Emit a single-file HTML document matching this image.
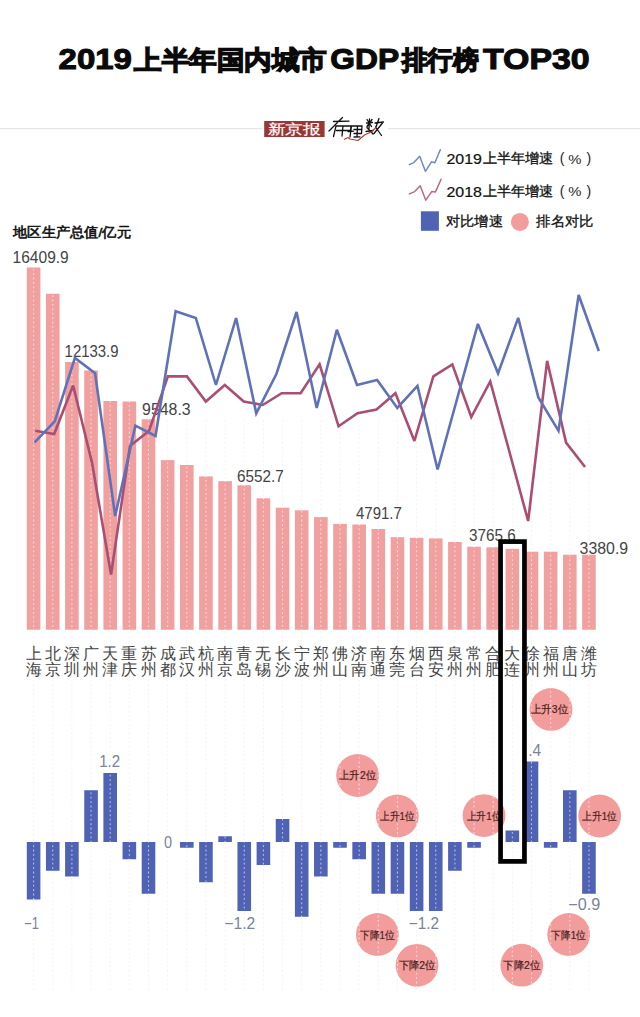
<!DOCTYPE html>
<html><head><meta charset="utf-8"><style>
html,body{margin:0;padding:0;background:#fff;}
body{width:640px;height:1017px;overflow:hidden;position:relative;font-family:"Liberation Sans",sans-serif;}
svg{position:absolute;left:0;top:0;}
</style></head><body>
<svg width="640" height="1017" viewBox="0 0 640 1017" font-family="Liberation Sans, sans-serif">
<rect width="640" height="1017" fill="#fff"/>

<text x="58.6" y="69.2" font-size="30" font-weight="bold" fill="#0a0a0a" stroke="#0a0a0a" stroke-width="1.1" textLength="73.2" lengthAdjust="spacingAndGlyphs">2019</text>
<text x="134" y="69.3" font-size="26" fill="#0a0a0a" stroke="#0a0a0a" stroke-width="2.2" textLength="193" lengthAdjust="spacingAndGlyphs">上半年国内城市</text>
<text x="330.3" y="69.2" font-size="30" font-weight="bold" fill="#0a0a0a" stroke="#0a0a0a" stroke-width="1.1" textLength="68.8" lengthAdjust="spacingAndGlyphs">GDP</text>
<text x="401.5" y="69.3" font-size="26" fill="#0a0a0a" stroke="#0a0a0a" stroke-width="2.2" textLength="77" lengthAdjust="spacingAndGlyphs">排行榜</text>
<text x="483" y="69.2" font-size="30" font-weight="bold" fill="#0a0a0a" stroke="#0a0a0a" stroke-width="1.1" textLength="106.6" lengthAdjust="spacingAndGlyphs">TOP30</text>
<rect x="0" y="128" width="640" height="1.2" fill="#e6e6e6"/>
<rect x="262" y="115" width="126" height="28" fill="#fff"/>
<rect x="264.2" y="121" width="60.4" height="16" fill="#9a3636"/>
<text x="267.5" y="134.3" font-family="Liberation Serif, serif" font-size="14" fill="#fff" stroke="#fff" stroke-width="0.2" textLength="53" lengthAdjust="spacingAndGlyphs">新京报</text>
<path d="M342.5,117.5 L329,131 M333.5,121.5 L349,121.2 M336,126 L333.5,136.5 M336,126 L351,125.8 L350.5,131 M336.5,130.5 L350.5,130.5 M343,126 L342,136 M348.5,126 L354,125.8 M351.5,126 L350,137 M348,131.5 L353.5,131.2 M354,126 L362,126 L361.5,133.5 M354,129.5 L361.5,129.5 M357.5,126 L357,137 M354,133.5 L361.5,133.5 M354,137 L360,136.8 M366.5,123 L372.5,122.5 M369.5,119 L369,128.5 M367,119.5 L371.5,126.5 M372,119.5 L367,126.5 M367,127.5 L373,134 M366,131.5 L373,130.5 M379,118.5 L376,127 M375,123 L383.5,122 M382.5,123 L374,133.5 M375.5,127 L381.5,135.5" fill="none" stroke="#111" stroke-width="1.3" stroke-linecap="round"/>
<polyline points="344,139.5 348,137.5 350,139 358,140.5 364.5,135 372,131.5 376,127.5" fill="none" stroke="#b03a3a" stroke-width="1.1" stroke-linejoin="round"/>
<polyline points="409.3,164.6 413.8,162.6 419.7,156.2 425.4,171.3 431.5,161.8 434.9,162.8 440.3,149.8" fill="none" stroke="#7688c4" stroke-width="1.5" stroke-linejoin="round" stroke-linecap="round"/>
<polyline points="409.3,193.9 414.7,191.6 420.2,185.7 425.8,200.2 431.7,191.6 435.4,192.1 441.1,179.3" fill="none" stroke="#b86a88" stroke-width="1.5" stroke-linejoin="round" stroke-linecap="round"/>
<text x="446.5" y="164.3" font-size="14.8" fill="#111" stroke="#111" stroke-width="0.2" textLength="35.5" lengthAdjust="spacingAndGlyphs">2019</text>
<text x="482.5" y="163.3" font-size="13.6" fill="#111" stroke="#111" stroke-width="0.3" textLength="71" lengthAdjust="spacingAndGlyphs">上半年增速</text>
<text x="559.8" y="163.3" font-size="14" fill="#222">(</text>
<text x="568.2" y="164.0" font-size="13.2" fill="#222" textLength="13.2" lengthAdjust="spacingAndGlyphs">%</text>
<text x="586.6" y="163.3" font-size="14" fill="#222">)</text>
<text x="446.5" y="196.70000000000002" font-size="14.8" fill="#111" stroke="#111" stroke-width="0.2" textLength="35.5" lengthAdjust="spacingAndGlyphs">2018</text>
<text x="482.5" y="195.70000000000002" font-size="13.6" fill="#111" stroke="#111" stroke-width="0.3" textLength="71" lengthAdjust="spacingAndGlyphs">上半年增速</text>
<text x="559.8" y="195.70000000000002" font-size="14" fill="#222">(</text>
<text x="568.2" y="196.4" font-size="13.2" fill="#222" textLength="13.2" lengthAdjust="spacingAndGlyphs">%</text>
<text x="586.6" y="195.70000000000002" font-size="14" fill="#222">)</text>
<rect x="420.9" y="211.3" width="18" height="19.5" fill="#4f62b3"/>
<text x="445.8" y="226" font-size="13.6" fill="#111" stroke="#111" stroke-width="0.3" textLength="57" lengthAdjust="spacingAndGlyphs">对比增速</text>
<circle cx="519.9" cy="221.9" r="9" fill="#f29c9b"/>
<text x="536.2" y="226.2" font-size="13.6" fill="#111" stroke="#111" stroke-width="0.3" textLength="57.5" lengthAdjust="spacingAndGlyphs">排名对比</text>
<text x="13.2" y="236.8" font-size="13.6" fill="#111" stroke="#111" stroke-width="0.6" textLength="117.6" lengthAdjust="spacingAndGlyphs">地区生产总值/亿元</text>
<line x1="33.60" y1="420" x2="33.60" y2="990" stroke="#f1f1f1" stroke-width="1" stroke-dasharray="1.8,2.6"/>
<line x1="52.75" y1="420" x2="52.75" y2="990" stroke="#f1f1f1" stroke-width="1" stroke-dasharray="1.8,2.6"/>
<line x1="71.90" y1="420" x2="71.90" y2="990" stroke="#f1f1f1" stroke-width="1" stroke-dasharray="1.8,2.6"/>
<line x1="91.05" y1="420" x2="91.05" y2="990" stroke="#f1f1f1" stroke-width="1" stroke-dasharray="1.8,2.6"/>
<line x1="110.20" y1="420" x2="110.20" y2="990" stroke="#f1f1f1" stroke-width="1" stroke-dasharray="1.8,2.6"/>
<line x1="129.35" y1="420" x2="129.35" y2="990" stroke="#f1f1f1" stroke-width="1" stroke-dasharray="1.8,2.6"/>
<line x1="148.50" y1="420" x2="148.50" y2="990" stroke="#f1f1f1" stroke-width="1" stroke-dasharray="1.8,2.6"/>
<line x1="167.65" y1="420" x2="167.65" y2="990" stroke="#f1f1f1" stroke-width="1" stroke-dasharray="1.8,2.6"/>
<line x1="186.80" y1="420" x2="186.80" y2="990" stroke="#f1f1f1" stroke-width="1" stroke-dasharray="1.8,2.6"/>
<line x1="205.95" y1="420" x2="205.95" y2="990" stroke="#f1f1f1" stroke-width="1" stroke-dasharray="1.8,2.6"/>
<line x1="225.10" y1="420" x2="225.10" y2="990" stroke="#f1f1f1" stroke-width="1" stroke-dasharray="1.8,2.6"/>
<line x1="244.25" y1="420" x2="244.25" y2="990" stroke="#f1f1f1" stroke-width="1" stroke-dasharray="1.8,2.6"/>
<line x1="263.40" y1="420" x2="263.40" y2="990" stroke="#f1f1f1" stroke-width="1" stroke-dasharray="1.8,2.6"/>
<line x1="282.55" y1="420" x2="282.55" y2="990" stroke="#f1f1f1" stroke-width="1" stroke-dasharray="1.8,2.6"/>
<line x1="301.70" y1="420" x2="301.70" y2="990" stroke="#f1f1f1" stroke-width="1" stroke-dasharray="1.8,2.6"/>
<line x1="320.85" y1="420" x2="320.85" y2="990" stroke="#f1f1f1" stroke-width="1" stroke-dasharray="1.8,2.6"/>
<line x1="340.00" y1="420" x2="340.00" y2="990" stroke="#f1f1f1" stroke-width="1" stroke-dasharray="1.8,2.6"/>
<line x1="359.15" y1="420" x2="359.15" y2="990" stroke="#f1f1f1" stroke-width="1" stroke-dasharray="1.8,2.6"/>
<line x1="378.30" y1="420" x2="378.30" y2="990" stroke="#f1f1f1" stroke-width="1" stroke-dasharray="1.8,2.6"/>
<line x1="397.45" y1="420" x2="397.45" y2="990" stroke="#f1f1f1" stroke-width="1" stroke-dasharray="1.8,2.6"/>
<line x1="416.60" y1="420" x2="416.60" y2="990" stroke="#f1f1f1" stroke-width="1" stroke-dasharray="1.8,2.6"/>
<line x1="435.75" y1="420" x2="435.75" y2="990" stroke="#f1f1f1" stroke-width="1" stroke-dasharray="1.8,2.6"/>
<line x1="454.90" y1="420" x2="454.90" y2="990" stroke="#f1f1f1" stroke-width="1" stroke-dasharray="1.8,2.6"/>
<line x1="474.05" y1="420" x2="474.05" y2="990" stroke="#f1f1f1" stroke-width="1" stroke-dasharray="1.8,2.6"/>
<line x1="493.20" y1="420" x2="493.20" y2="990" stroke="#f1f1f1" stroke-width="1" stroke-dasharray="1.8,2.6"/>
<line x1="512.35" y1="420" x2="512.35" y2="990" stroke="#f1f1f1" stroke-width="1" stroke-dasharray="1.8,2.6"/>
<line x1="531.50" y1="420" x2="531.50" y2="990" stroke="#f1f1f1" stroke-width="1" stroke-dasharray="1.8,2.6"/>
<line x1="550.65" y1="420" x2="550.65" y2="990" stroke="#f1f1f1" stroke-width="1" stroke-dasharray="1.8,2.6"/>
<line x1="569.80" y1="420" x2="569.80" y2="990" stroke="#f1f1f1" stroke-width="1" stroke-dasharray="1.8,2.6"/>
<line x1="588.95" y1="420" x2="588.95" y2="990" stroke="#f1f1f1" stroke-width="1" stroke-dasharray="1.8,2.6"/>
<rect x="26.80" y="267.5" width="13.6" height="362.25" fill="#f0a09e"/>
<rect x="45.95" y="293.75" width="13.6" height="336.00" fill="#f0a09e"/>
<rect x="65.10" y="362" width="13.6" height="267.75" fill="#f0a09e"/>
<rect x="84.25" y="370.5" width="13.6" height="259.25" fill="#f0a09e"/>
<rect x="103.40" y="401" width="13.6" height="228.75" fill="#f0a09e"/>
<rect x="122.55" y="401.5" width="13.6" height="228.25" fill="#f0a09e"/>
<rect x="141.70" y="419.25" width="13.6" height="210.50" fill="#f0a09e"/>
<rect x="160.85" y="460.1" width="13.6" height="169.65" fill="#f0a09e"/>
<rect x="180.00" y="465" width="13.6" height="164.75" fill="#f0a09e"/>
<rect x="199.15" y="476.4" width="13.6" height="153.35" fill="#f0a09e"/>
<rect x="218.30" y="481.2" width="13.6" height="148.55" fill="#f0a09e"/>
<rect x="237.45" y="485.3" width="13.6" height="144.45" fill="#f0a09e"/>
<rect x="256.60" y="498.3" width="13.6" height="131.45" fill="#f0a09e"/>
<rect x="275.75" y="507.7" width="13.6" height="122.05" fill="#f0a09e"/>
<rect x="294.90" y="510.3" width="13.6" height="119.45" fill="#f0a09e"/>
<rect x="314.05" y="517.1" width="13.6" height="112.65" fill="#f0a09e"/>
<rect x="333.20" y="523.9" width="13.6" height="105.85" fill="#f0a09e"/>
<rect x="352.35" y="524.5" width="13.6" height="105.25" fill="#f0a09e"/>
<rect x="371.50" y="529" width="13.6" height="100.75" fill="#f0a09e"/>
<rect x="390.65" y="537.2" width="13.6" height="92.55" fill="#f0a09e"/>
<rect x="409.80" y="537.8" width="13.6" height="91.95" fill="#f0a09e"/>
<rect x="428.95" y="538.4" width="13.6" height="91.35" fill="#f0a09e"/>
<rect x="448.10" y="542" width="13.6" height="87.75" fill="#f0a09e"/>
<rect x="467.25" y="546.7" width="13.6" height="83.05" fill="#f0a09e"/>
<rect x="486.40" y="547.3" width="13.6" height="82.45" fill="#f0a09e"/>
<rect x="505.55" y="548.8" width="13.6" height="80.95" fill="#f0a09e"/>
<rect x="524.70" y="551.7" width="13.6" height="78.05" fill="#f0a09e"/>
<rect x="543.85" y="551.7" width="13.6" height="78.05" fill="#f0a09e"/>
<rect x="563.00" y="554.7" width="13.6" height="75.05" fill="#f0a09e"/>
<rect x="582.15" y="554.7" width="13.6" height="75.05" fill="#f0a09e"/>
<rect x="26.80" y="842.00" width="13.6" height="57.50" fill="#4f62b3"/>
<rect x="45.95" y="842.00" width="13.6" height="28.75" fill="#4f62b3"/>
<rect x="65.10" y="842.00" width="13.6" height="34.50" fill="#4f62b3"/>
<rect x="84.25" y="790.25" width="13.6" height="51.75" fill="#4f62b3"/>
<rect x="103.40" y="773.00" width="13.6" height="69.00" fill="#4f62b3"/>
<rect x="122.55" y="842.00" width="13.6" height="17.25" fill="#4f62b3"/>
<rect x="141.70" y="842.00" width="13.6" height="51.75" fill="#4f62b3"/>
<rect x="180.00" y="842.00" width="13.6" height="5.75" fill="#4f62b3"/>
<rect x="199.15" y="842.00" width="13.6" height="40.25" fill="#4f62b3"/>
<rect x="218.30" y="836.25" width="13.6" height="5.75" fill="#4f62b3"/>
<rect x="237.45" y="842.00" width="13.6" height="69.00" fill="#4f62b3"/>
<rect x="256.60" y="842.00" width="13.6" height="23.00" fill="#4f62b3"/>
<rect x="275.75" y="819.00" width="13.6" height="23.00" fill="#4f62b3"/>
<rect x="294.90" y="842.00" width="13.6" height="74.75" fill="#4f62b3"/>
<rect x="314.05" y="842.00" width="13.6" height="34.50" fill="#4f62b3"/>
<rect x="333.20" y="842.00" width="13.6" height="5.75" fill="#4f62b3"/>
<rect x="352.35" y="842.00" width="13.6" height="17.25" fill="#4f62b3"/>
<rect x="371.50" y="842.00" width="13.6" height="51.75" fill="#4f62b3"/>
<rect x="390.65" y="842.00" width="13.6" height="51.75" fill="#4f62b3"/>
<rect x="409.80" y="842.00" width="13.6" height="69.00" fill="#4f62b3"/>
<rect x="428.95" y="842.00" width="13.6" height="69.00" fill="#4f62b3"/>
<rect x="448.10" y="842.00" width="13.6" height="28.75" fill="#4f62b3"/>
<rect x="467.25" y="842.00" width="13.6" height="5.75" fill="#4f62b3"/>
<rect x="505.55" y="830.50" width="13.6" height="11.50" fill="#4f62b3"/>
<rect x="524.70" y="761.50" width="13.6" height="80.50" fill="#4f62b3"/>
<rect x="543.85" y="842.00" width="13.6" height="5.75" fill="#4f62b3"/>
<rect x="563.00" y="790.25" width="13.6" height="51.75" fill="#4f62b3"/>
<rect x="582.15" y="842.00" width="13.6" height="51.75" fill="#4f62b3"/>
<circle cx="551" cy="709.4" r="21.4" fill="#f29c9b"/>
<circle cx="357.6" cy="775.5" r="21.4" fill="#f29c9b"/>
<circle cx="397.3" cy="816" r="21.4" fill="#f29c9b"/>
<circle cx="484" cy="815.6" r="21.4" fill="#f29c9b"/>
<circle cx="599.7" cy="816" r="21.4" fill="#f29c9b"/>
<circle cx="377.4" cy="934.5" r="21.4" fill="#f29c9b"/>
<circle cx="417" cy="965.3" r="21.4" fill="#f29c9b"/>
<circle cx="521.8" cy="965.2" r="21.4" fill="#f29c9b"/>
<circle cx="568.7" cy="934.5" r="21.4" fill="#f29c9b"/>
<line x1="33.60" y1="260" x2="33.60" y2="990" stroke="#ffffff" stroke-opacity="0.6" stroke-width="1.1" stroke-dasharray="1.8,2.6"/>
<line x1="52.75" y1="260" x2="52.75" y2="990" stroke="#ffffff" stroke-opacity="0.6" stroke-width="1.1" stroke-dasharray="1.8,2.6"/>
<line x1="71.90" y1="260" x2="71.90" y2="990" stroke="#ffffff" stroke-opacity="0.6" stroke-width="1.1" stroke-dasharray="1.8,2.6"/>
<line x1="91.05" y1="260" x2="91.05" y2="990" stroke="#ffffff" stroke-opacity="0.6" stroke-width="1.1" stroke-dasharray="1.8,2.6"/>
<line x1="110.20" y1="260" x2="110.20" y2="990" stroke="#ffffff" stroke-opacity="0.6" stroke-width="1.1" stroke-dasharray="1.8,2.6"/>
<line x1="129.35" y1="260" x2="129.35" y2="990" stroke="#ffffff" stroke-opacity="0.6" stroke-width="1.1" stroke-dasharray="1.8,2.6"/>
<line x1="148.50" y1="260" x2="148.50" y2="990" stroke="#ffffff" stroke-opacity="0.6" stroke-width="1.1" stroke-dasharray="1.8,2.6"/>
<line x1="167.65" y1="260" x2="167.65" y2="990" stroke="#ffffff" stroke-opacity="0.6" stroke-width="1.1" stroke-dasharray="1.8,2.6"/>
<line x1="186.80" y1="260" x2="186.80" y2="990" stroke="#ffffff" stroke-opacity="0.6" stroke-width="1.1" stroke-dasharray="1.8,2.6"/>
<line x1="205.95" y1="260" x2="205.95" y2="990" stroke="#ffffff" stroke-opacity="0.6" stroke-width="1.1" stroke-dasharray="1.8,2.6"/>
<line x1="225.10" y1="260" x2="225.10" y2="990" stroke="#ffffff" stroke-opacity="0.6" stroke-width="1.1" stroke-dasharray="1.8,2.6"/>
<line x1="244.25" y1="260" x2="244.25" y2="990" stroke="#ffffff" stroke-opacity="0.6" stroke-width="1.1" stroke-dasharray="1.8,2.6"/>
<line x1="263.40" y1="260" x2="263.40" y2="990" stroke="#ffffff" stroke-opacity="0.6" stroke-width="1.1" stroke-dasharray="1.8,2.6"/>
<line x1="282.55" y1="260" x2="282.55" y2="990" stroke="#ffffff" stroke-opacity="0.6" stroke-width="1.1" stroke-dasharray="1.8,2.6"/>
<line x1="301.70" y1="260" x2="301.70" y2="990" stroke="#ffffff" stroke-opacity="0.6" stroke-width="1.1" stroke-dasharray="1.8,2.6"/>
<line x1="320.85" y1="260" x2="320.85" y2="990" stroke="#ffffff" stroke-opacity="0.6" stroke-width="1.1" stroke-dasharray="1.8,2.6"/>
<line x1="340.00" y1="260" x2="340.00" y2="990" stroke="#ffffff" stroke-opacity="0.6" stroke-width="1.1" stroke-dasharray="1.8,2.6"/>
<line x1="359.15" y1="260" x2="359.15" y2="990" stroke="#ffffff" stroke-opacity="0.6" stroke-width="1.1" stroke-dasharray="1.8,2.6"/>
<line x1="378.30" y1="260" x2="378.30" y2="990" stroke="#ffffff" stroke-opacity="0.6" stroke-width="1.1" stroke-dasharray="1.8,2.6"/>
<line x1="397.45" y1="260" x2="397.45" y2="990" stroke="#ffffff" stroke-opacity="0.6" stroke-width="1.1" stroke-dasharray="1.8,2.6"/>
<line x1="416.60" y1="260" x2="416.60" y2="990" stroke="#ffffff" stroke-opacity="0.6" stroke-width="1.1" stroke-dasharray="1.8,2.6"/>
<line x1="435.75" y1="260" x2="435.75" y2="990" stroke="#ffffff" stroke-opacity="0.6" stroke-width="1.1" stroke-dasharray="1.8,2.6"/>
<line x1="454.90" y1="260" x2="454.90" y2="990" stroke="#ffffff" stroke-opacity="0.6" stroke-width="1.1" stroke-dasharray="1.8,2.6"/>
<line x1="474.05" y1="260" x2="474.05" y2="990" stroke="#ffffff" stroke-opacity="0.6" stroke-width="1.1" stroke-dasharray="1.8,2.6"/>
<line x1="493.20" y1="260" x2="493.20" y2="990" stroke="#ffffff" stroke-opacity="0.6" stroke-width="1.1" stroke-dasharray="1.8,2.6"/>
<line x1="512.35" y1="260" x2="512.35" y2="990" stroke="#ffffff" stroke-opacity="0.6" stroke-width="1.1" stroke-dasharray="1.8,2.6"/>
<line x1="531.50" y1="260" x2="531.50" y2="990" stroke="#ffffff" stroke-opacity="0.6" stroke-width="1.1" stroke-dasharray="1.8,2.6"/>
<line x1="550.65" y1="260" x2="550.65" y2="990" stroke="#ffffff" stroke-opacity="0.6" stroke-width="1.1" stroke-dasharray="1.8,2.6"/>
<line x1="569.80" y1="260" x2="569.80" y2="990" stroke="#ffffff" stroke-opacity="0.6" stroke-width="1.1" stroke-dasharray="1.8,2.6"/>
<line x1="588.95" y1="260" x2="588.95" y2="990" stroke="#ffffff" stroke-opacity="0.6" stroke-width="1.1" stroke-dasharray="1.8,2.6"/>
<text x="549.5" y="713.3" font-size="11" fill="#4a1c22" stroke="#4a1c22" stroke-width="0.2" text-anchor="middle" textLength="37" lengthAdjust="spacingAndGlyphs">上升3位</text>
<text x="357.6" y="779.4" font-size="11" fill="#4a1c22" stroke="#4a1c22" stroke-width="0.2" text-anchor="middle" textLength="37" lengthAdjust="spacingAndGlyphs">上升2位</text>
<text x="397.3" y="819.9" font-size="11" fill="#4a1c22" stroke="#4a1c22" stroke-width="0.2" text-anchor="middle" textLength="34.6" lengthAdjust="spacingAndGlyphs">上升1位</text>
<text x="484.0" y="819.5" font-size="11" fill="#4a1c22" stroke="#4a1c22" stroke-width="0.2" text-anchor="middle" textLength="34.6" lengthAdjust="spacingAndGlyphs">上升1位</text>
<text x="599.7" y="819.9" font-size="11" fill="#4a1c22" stroke="#4a1c22" stroke-width="0.2" text-anchor="middle" textLength="34.6" lengthAdjust="spacingAndGlyphs">上升1位</text>
<text x="377.4" y="939.4" font-size="11" fill="#4a1c22" stroke="#4a1c22" stroke-width="0.2" text-anchor="middle" textLength="34.6" lengthAdjust="spacingAndGlyphs">下降1位</text>
<text x="417.0" y="969.2" font-size="11" fill="#4a1c22" stroke="#4a1c22" stroke-width="0.2" text-anchor="middle" textLength="37" lengthAdjust="spacingAndGlyphs">下降2位</text>
<text x="521.8" y="969.1" font-size="11" fill="#4a1c22" stroke="#4a1c22" stroke-width="0.2" text-anchor="middle" textLength="37" lengthAdjust="spacingAndGlyphs">下降2位</text>
<text x="568.7" y="939.4" font-size="11" fill="#4a1c22" stroke="#4a1c22" stroke-width="0.2" text-anchor="middle" textLength="34.6" lengthAdjust="spacingAndGlyphs">下降1位</text>
<text x="12.55" y="263.3" font-size="16.3" fill="#444" textLength="56.23" lengthAdjust="spacingAndGlyphs">16409.9</text>
<text x="64.6" y="356.8" font-size="16.3" fill="#444" textLength="53.99" lengthAdjust="spacingAndGlyphs">12133.9</text>
<text x="142.1" y="414.8" font-size="16.3" fill="#444" textLength="48.62" lengthAdjust="spacingAndGlyphs">9548.3</text>
<text x="237.1" y="481.8" font-size="16.3" fill="#444" textLength="46.63" lengthAdjust="spacingAndGlyphs">6552.7</text>
<text x="356.0" y="518.75" font-size="16.3" fill="#444" textLength="45.84" lengthAdjust="spacingAndGlyphs">4791.7</text>
<text x="469.1" y="541.3" font-size="16.3" fill="#444" textLength="46.63" lengthAdjust="spacingAndGlyphs">3765.6</text>
<text x="579.6" y="553.8" font-size="16.3" fill="#444" textLength="48.62" lengthAdjust="spacingAndGlyphs">3380.9</text>
<polyline points="35.20,430.8 54.16,434 73.12,385.5 92.08,463 111.04,574.6 130.00,446 148.96,431 167.92,376.4 186.88,376.4 205.84,401.5 224.80,385 243.76,401.5 262.72,405 281.68,393.2 300.64,393.2 319.60,364.3 338.56,426.3 357.52,413.3 376.48,409.5 395.44,393.2 414.40,441 433.36,376.3 452.32,364.4 471.28,417 490.24,381.5 509.20,451 528.16,521 547.12,360.9 566.08,442.6 585.04,467" fill="none" stroke="#aa4e73" stroke-width="2.6" stroke-linejoin="miter" stroke-miterlimit="3"/>
<polyline points="34.60,442.3 54.75,421.3 74.90,357.9 95.05,373.2 115.20,516 135.35,425.7 155.50,436 175.65,311.2 195.80,318 215.95,385 236.10,318 256.25,413.3 276.40,374 296.55,312 316.70,408 336.85,329.8 357.00,385 377.15,380 397.30,408 417.45,385.9 437.60,469.5 457.75,396.5 477.90,323.9 498.05,373.3 518.20,317.9 538.35,397.4 558.50,430.8 578.65,295 598.80,351" fill="none" stroke="#5f72b9" stroke-width="2.6" stroke-linejoin="miter" stroke-miterlimit="3"/>
<text x="33.60" y="658.8" font-size="16" fill="#444" text-anchor="middle">上</text>
<text x="33.60" y="675.3" font-size="16" fill="#444" text-anchor="middle">海</text>
<text x="52.75" y="658.8" font-size="16" fill="#444" text-anchor="middle">北</text>
<text x="52.75" y="675.3" font-size="16" fill="#444" text-anchor="middle">京</text>
<text x="71.90" y="658.8" font-size="16" fill="#444" text-anchor="middle">深</text>
<text x="71.90" y="675.3" font-size="16" fill="#444" text-anchor="middle">圳</text>
<text x="91.05" y="658.8" font-size="16" fill="#444" text-anchor="middle">广</text>
<text x="91.05" y="675.3" font-size="16" fill="#444" text-anchor="middle">州</text>
<text x="110.20" y="658.8" font-size="16" fill="#444" text-anchor="middle">天</text>
<text x="110.20" y="675.3" font-size="16" fill="#444" text-anchor="middle">津</text>
<text x="129.35" y="658.8" font-size="16" fill="#444" text-anchor="middle">重</text>
<text x="129.35" y="675.3" font-size="16" fill="#444" text-anchor="middle">庆</text>
<text x="148.50" y="658.8" font-size="16" fill="#444" text-anchor="middle">苏</text>
<text x="148.50" y="675.3" font-size="16" fill="#444" text-anchor="middle">州</text>
<text x="167.65" y="658.8" font-size="16" fill="#444" text-anchor="middle">成</text>
<text x="167.65" y="675.3" font-size="16" fill="#444" text-anchor="middle">都</text>
<text x="186.80" y="658.8" font-size="16" fill="#444" text-anchor="middle">武</text>
<text x="186.80" y="675.3" font-size="16" fill="#444" text-anchor="middle">汉</text>
<text x="205.95" y="658.8" font-size="16" fill="#444" text-anchor="middle">杭</text>
<text x="205.95" y="675.3" font-size="16" fill="#444" text-anchor="middle">州</text>
<text x="225.10" y="658.8" font-size="16" fill="#444" text-anchor="middle">南</text>
<text x="225.10" y="675.3" font-size="16" fill="#444" text-anchor="middle">京</text>
<text x="244.25" y="658.8" font-size="16" fill="#444" text-anchor="middle">青</text>
<text x="244.25" y="675.3" font-size="16" fill="#444" text-anchor="middle">岛</text>
<text x="263.40" y="658.8" font-size="16" fill="#444" text-anchor="middle">无</text>
<text x="263.40" y="675.3" font-size="16" fill="#444" text-anchor="middle">锡</text>
<text x="282.55" y="658.8" font-size="16" fill="#444" text-anchor="middle">长</text>
<text x="282.55" y="675.3" font-size="16" fill="#444" text-anchor="middle">沙</text>
<text x="301.70" y="658.8" font-size="16" fill="#444" text-anchor="middle">宁</text>
<text x="301.70" y="675.3" font-size="16" fill="#444" text-anchor="middle">波</text>
<text x="320.85" y="658.8" font-size="16" fill="#444" text-anchor="middle">郑</text>
<text x="320.85" y="675.3" font-size="16" fill="#444" text-anchor="middle">州</text>
<text x="340.00" y="658.8" font-size="16" fill="#444" text-anchor="middle">佛</text>
<text x="340.00" y="675.3" font-size="16" fill="#444" text-anchor="middle">山</text>
<text x="359.15" y="658.8" font-size="16" fill="#444" text-anchor="middle">济</text>
<text x="359.15" y="675.3" font-size="16" fill="#444" text-anchor="middle">南</text>
<text x="378.30" y="658.8" font-size="16" fill="#444" text-anchor="middle">南</text>
<text x="378.30" y="675.3" font-size="16" fill="#444" text-anchor="middle">通</text>
<text x="397.45" y="658.8" font-size="16" fill="#444" text-anchor="middle">东</text>
<text x="397.45" y="675.3" font-size="16" fill="#444" text-anchor="middle">莞</text>
<text x="416.60" y="658.8" font-size="16" fill="#444" text-anchor="middle">烟</text>
<text x="416.60" y="675.3" font-size="16" fill="#444" text-anchor="middle">台</text>
<text x="435.75" y="658.8" font-size="16" fill="#444" text-anchor="middle">西</text>
<text x="435.75" y="675.3" font-size="16" fill="#444" text-anchor="middle">安</text>
<text x="454.90" y="658.8" font-size="16" fill="#444" text-anchor="middle">泉</text>
<text x="454.90" y="675.3" font-size="16" fill="#444" text-anchor="middle">州</text>
<text x="474.05" y="658.8" font-size="16" fill="#444" text-anchor="middle">常</text>
<text x="474.05" y="675.3" font-size="16" fill="#444" text-anchor="middle">州</text>
<text x="493.20" y="658.8" font-size="16" fill="#444" text-anchor="middle">合</text>
<text x="493.20" y="675.3" font-size="16" fill="#444" text-anchor="middle">肥</text>
<text x="512.35" y="658.8" font-size="16" fill="#444" text-anchor="middle">大</text>
<text x="512.35" y="675.3" font-size="16" fill="#444" text-anchor="middle">连</text>
<text x="531.50" y="658.8" font-size="16" fill="#444" text-anchor="middle">徐</text>
<text x="531.50" y="675.3" font-size="16" fill="#444" text-anchor="middle">州</text>
<text x="550.65" y="658.8" font-size="16" fill="#444" text-anchor="middle">福</text>
<text x="550.65" y="675.3" font-size="16" fill="#444" text-anchor="middle">州</text>
<text x="569.80" y="658.8" font-size="16" fill="#444" text-anchor="middle">唐</text>
<text x="569.80" y="675.3" font-size="16" fill="#444" text-anchor="middle">山</text>
<text x="588.95" y="658.8" font-size="16" fill="#444" text-anchor="middle">潍</text>
<text x="588.95" y="675.3" font-size="16" fill="#444" text-anchor="middle">坊</text>
<text x="24.25" y="929.1" font-size="16.3" fill="#7a8398" textLength="14.71" lengthAdjust="spacingAndGlyphs">−1</text>
<text x="99.2" y="767.1" font-size="16.3" fill="#7a8398" textLength="20.94" lengthAdjust="spacingAndGlyphs">1.2</text>
<text x="164.1" y="847.8" font-size="16.3" fill="#7a8398" textLength="8.06" lengthAdjust="spacingAndGlyphs">0</text>
<text x="224.3" y="929.2" font-size="16.3" fill="#7a8398" textLength="30.92" lengthAdjust="spacingAndGlyphs">−1.2</text>
<text x="408.7" y="929.2" font-size="16.3" fill="#7a8398" textLength="30.29" lengthAdjust="spacingAndGlyphs">−1.2</text>
<text x="528.3" y="755.9" font-size="16.3" fill="#7a8398" textLength="12.97" lengthAdjust="spacingAndGlyphs">.4</text>
<text x="568.2" y="910.1" font-size="16.3" fill="#7a8398" textLength="31.96" lengthAdjust="spacingAndGlyphs">−0.9</text>
<rect x="500.55" y="541.6" width="23.9" height="319.8" fill="none" stroke="#000" stroke-width="4.7"/>
</svg>
</body></html>
